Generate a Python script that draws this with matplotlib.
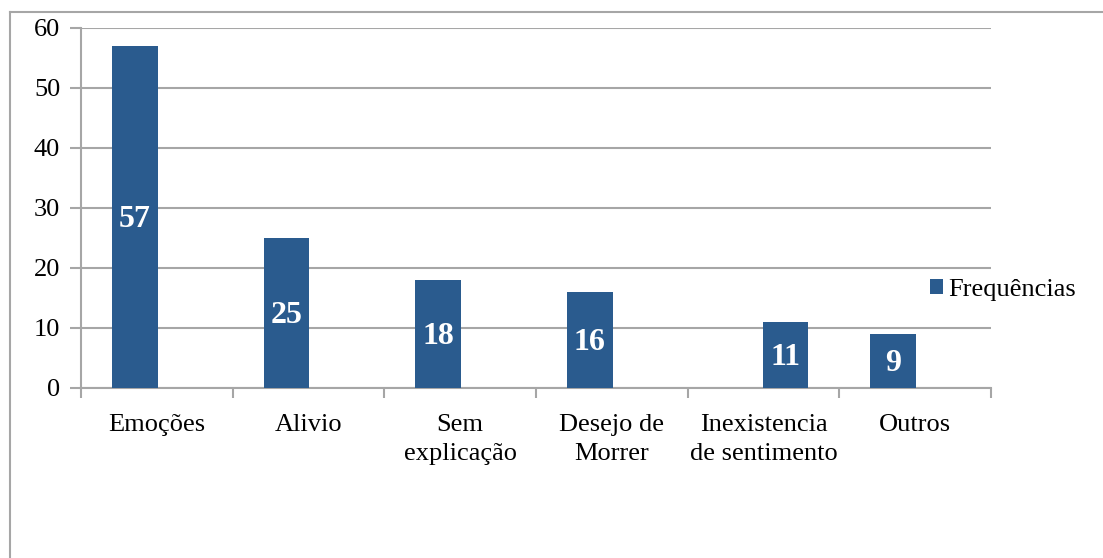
import matplotlib
matplotlib.use("Agg")
import matplotlib.pyplot as plt
from matplotlib.lines import Line2D
from matplotlib.patches import Patch
import numpy as np

categories = ["Emoções", "Alivio", "Sem\nexplicação", "Desejo de\nMorrer",
              "Inexistencia\nde sentimento", "Outros"]
values = [57, 25, 18, 16, 11, 9]
series_name = "Frequências"
yticks = [0, 10, 20, 30, 40, 50, 60]

# bar offsets inside each category slot (as in the original picture)
offsets = [-0.145, -0.145, -0.145, -0.145, 0.145, -0.145]

bar_color = "#2A5B8E"
grid_color = "#A6A6A6"

plt.rcParams["font.family"] = ["Liberation Serif", "DejaVu Serif"]

fig = plt.figure(figsize=(11.03, 5.58), dpi=100)
ax = fig.add_axes([81 / 1103, 1 - 388 / 558, 910 / 1103, 360 / 558])

# outer chart frame (cropped on the right and bottom)
fx = 9.5 / 1103
fy = 1 - 12 / 558
fig.add_artist(Line2D([fx, fx], [0, fy], color=grid_color, lw=1.5, transform=fig.transFigure))
fig.add_artist(Line2D([fx, 1], [fy, fy], color=grid_color, lw=1.5, transform=fig.transFigure))

x = np.arange(len(categories)) + 0.5 + np.array(offsets)
bars = ax.bar(x, values, width=0.3, color=bar_color, zorder=3)

for b, v in zip(bars, values):
    ax.text(b.get_x() + b.get_width() / 2, v / 2 - 0.4, str(v), ha="center", va="center",
            color="white", fontsize=23, fontweight="bold", zorder=4)

ax.set_xlim(0, len(categories))
ax.set_ylim(0, 60)
ax.set_yticks(yticks)
ax.yaxis.grid(True, color=grid_color, lw=1.5, zorder=0)
ax.set_axisbelow(True)

ax.set_xticks(np.arange(len(categories) + 1))
ax.set_xticklabels([])
ax.set_xticks(np.arange(len(categories)) + 0.5, minor=True)
ax.set_xticklabels(categories, minor=True, linespacing=1.4)
ax.tick_params(axis="x", which="major", length=7, width=1.5, color=grid_color, direction="out")
ax.tick_params(axis="x", which="minor", length=0, pad=19, labelsize=19)
ax.tick_params(axis="y", length=8, width=1.5, color=grid_color, pad=7, labelsize=19)

for s in ["top", "right"]:
    ax.spines[s].set_visible(False)
for s in ["left", "bottom"]:
    ax.spines[s].set_color(grid_color)
    ax.spines[s].set_linewidth(1.5)

handle = Patch(facecolor=bar_color, edgecolor="none")
ax.legend([handle], [series_name], loc="center left", bbox_to_anchor=(0.933, 0.272),
          frameon=False, fontsize=19, handlelength=0.5, handleheight=0.5,
          handletextpad=0.2, borderpad=0, borderaxespad=0)

fig.savefig("out.png", dpi=100)
